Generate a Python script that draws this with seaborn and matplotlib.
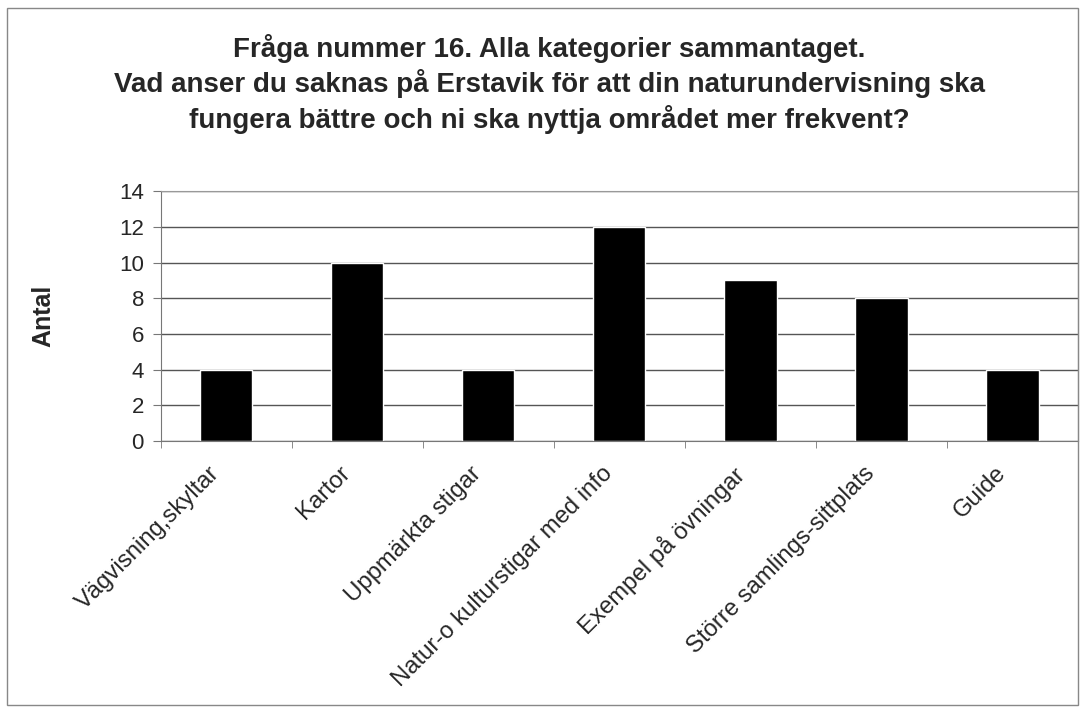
import matplotlib
matplotlib.use('Agg')
import matplotlib.pyplot as plt
import matplotlib.patches as mpatches
import matplotlib.transforms as mtransforms
import seaborn as sns
import pandas as pd

# data
categories = ['Vägvisning,skyltar', 'Kartor', 'Uppmärkta stigar',
              'Natur-o kulturstigar med info', 'Exempel på övningar',
              'Större samlings-sittplats', 'Guide']
antal = [4, 10, 4, 12, 9, 8, 4]
yticks = [0, 2, 4, 6, 8, 10, 12, 14]
title = ('Fråga nummer 16. Alla kategorier sammantaget.\n'
         'Vad anser du saknas på Erstavik för att din naturundervisning ska\n'
         'fungera bättre och ni ska nyttja området mer frekvent?')

df = pd.DataFrame({'kategori': categories, 'antal': antal})

sns.set_style('white')
plt.rcParams['font.family'] = ['Liberation Sans', 'DejaVu Sans']

fig = plt.figure(figsize=(10.85, 7.11), dpi=100)
ax = fig.add_axes([0.148, 0.380, 0.8455, 0.351])

sns.barplot(data=df, x='kategori', y='antal', color='black',
            width=0.4, saturation=1, ax=ax)

ax.set_ylim(0, 14)
ax.set_xlim(-0.5, len(categories) - 0.5)
ax.set_yticks(yticks)
ax.yaxis.grid(True, color='#555555', linewidth=1)
ax.set_axisbelow(True)
ax.tick_params(axis='y', labelsize=16, length=6, direction='out',
               left=True, color='#777777', pad=6)
ax.set_xticks(range(len(categories)))
ax.set_xticklabels(categories, rotation=45, ha='right',
                   rotation_mode='anchor', fontsize=17.2)
ax.tick_params(axis='x', length=0, pad=14)
# nudge the rotated labels a little to the left
shift = mtransforms.ScaledTranslation(-18 / 100, -2 / 100, fig.dpi_scale_trans)
for lbl in ax.get_xticklabels():
    lbl.set_transform(lbl.get_transform() + shift)
# tick marks between categories
ax.set_xticks([i + 0.5 for i in range(-1, len(categories))], minor=True)
ax.tick_params(axis='x', which='minor', length=5, color='#777777',
               direction='out', bottom=True)

for s in ['top', 'right']:
    ax.spines[s].set_color('#999999')
for s in ['left', 'bottom']:
    ax.spines[s].set_color('#777777')

ax.set_xlabel('')
ax.set_ylabel('Antal', fontsize=18, fontweight='bold', labelpad=46)

fig.text(0.506, 0.952, title, ha='center', va='top', fontsize=20,
         fontweight='bold', linespacing=1.27)

# outer frame
fig.patches.append(mpatches.Rectangle((0.0065, 0.008), 0.987, 0.981,
                                      transform=fig.transFigure, fill=False,
                                      edgecolor='#888888', linewidth=1))

fig.savefig('out.png', dpi=100)
